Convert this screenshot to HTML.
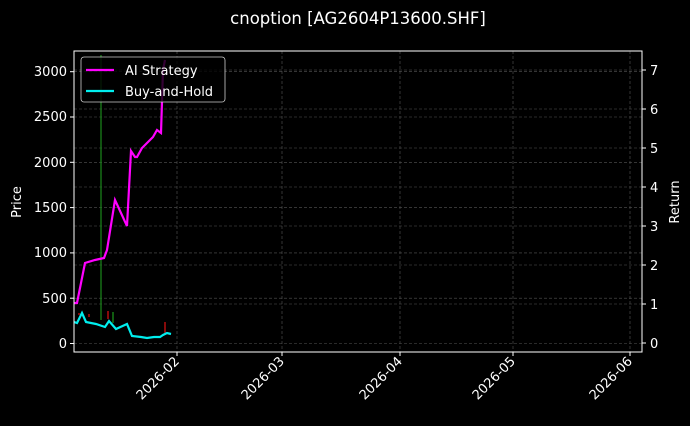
<!DOCTYPE html>
<html><head><style>
body{margin:0;background:#000;}
svg text{font-family:"DejaVu Sans","Liberation Sans",sans-serif;fill:#fff;}
</style></head><body>
<svg width="690" height="421" viewBox="0 0 690 421" xmlns="http://www.w3.org/2000/svg">
<rect width="690" height="421" fill="#000"/>
<text x="358" y="24" font-size="16.5" text-anchor="middle">cnoption [AG2604P13600.SHF]</text>
<g stroke="#555" stroke-width="0.6" stroke-dasharray="3,2">
<line x1="74" x2="642" y1="343.5" y2="343.5"/><line x1="74" x2="642" y1="298.2" y2="298.2"/><line x1="74" x2="642" y1="252.9" y2="252.9"/><line x1="74" x2="642" y1="207.6" y2="207.6"/><line x1="74" x2="642" y1="162.3" y2="162.3"/><line x1="74" x2="642" y1="117" y2="117"/><line x1="74" x2="642" y1="71.7" y2="71.7"/>
<line x1="74" x2="642" y1="304" y2="304"/><line x1="74" x2="642" y1="265" y2="265"/><line x1="74" x2="642" y1="226" y2="226"/><line x1="74" x2="642" y1="187" y2="187"/><line x1="74" x2="642" y1="148" y2="148"/><line x1="74" x2="642" y1="109" y2="109"/><line x1="74" x2="642" y1="70" y2="70"/>
<line y1="51" y2="352" x1="177" x2="177"/><line y1="51" y2="352" x1="282" x2="282"/><line y1="51" y2="352" x1="400" x2="400"/><line y1="51" y2="352" x1="513" x2="513"/><line y1="51" y2="352" x1="630" x2="630"/>
</g>
<line x1="101" x2="101" y1="55" y2="320" stroke="#1a8a1a" stroke-width="1.2"/>
<g stroke-width="1.2">
<line x1="108" x2="108" y1="311" y2="319" stroke="#e01010"/>
<line x1="113" x2="113" y1="312" y2="323" stroke="#1a9a1a"/>
<line x1="165" x2="165" y1="322" y2="333" stroke="#e01010"/>
<line x1="89" x2="89" y1="314" y2="317" stroke="#e01010"/>
<line x1="78" x2="80" y1="314" y2="314" stroke="#e01010"/>
</g>
<polyline fill="none" stroke="#ff00ff" stroke-width="2.2" points="74,303 77,303 85,263 95,260 104,258 107,250 115,200 127,226 131,151 135,157 137,157 142,148 153,137 157,130 161,133 163,70 165,60"/>
<polyline fill="none" stroke="#00eeee" stroke-width="2.2" points="74,322 77,323 82,313 86,322 96,324 105,327 109,321 116,329 127,324 132,336 141,337 147,338 154,337 160,337 163,335 167,333 171,334"/>
<rect x="74" y="51" width="568" height="301" fill="none" stroke="#fff" stroke-width="1"/>
<g stroke="#fff" stroke-width="1">
<line x1="70" x2="74" y1="343.5" y2="343.5"/><line x1="70" x2="74" y1="298.2" y2="298.2"/><line x1="70" x2="74" y1="252.9" y2="252.9"/><line x1="70" x2="74" y1="207.6" y2="207.6"/><line x1="70" x2="74" y1="162.3" y2="162.3"/><line x1="70" x2="74" y1="117" y2="117"/><line x1="70" x2="74" y1="71.7" y2="71.7"/>
<line x1="642" x2="646" y1="343" y2="343"/><line x1="642" x2="646" y1="304" y2="304"/><line x1="642" x2="646" y1="265" y2="265"/><line x1="642" x2="646" y1="226" y2="226"/><line x1="642" x2="646" y1="187" y2="187"/><line x1="642" x2="646" y1="148" y2="148"/><line x1="642" x2="646" y1="109" y2="109"/><line x1="642" x2="646" y1="70" y2="70"/>
<line y1="352" y2="356" x1="177" x2="177"/><line y1="352" y2="356" x1="282" x2="282"/><line y1="352" y2="356" x1="400" x2="400"/><line y1="352" y2="356" x1="513" x2="513"/><line y1="352" y2="356" x1="630" x2="630"/>
</g>
<g font-size="13" text-anchor="end">
<text x="67" y="348">0</text><text x="67" y="303">500</text><text x="67" y="257">1000</text><text x="67" y="212">1500</text><text x="67" y="167">2000</text><text x="67" y="121">2500</text><text x="67" y="76">3000</text>
</g>
<g font-size="13">
<text x="650" y="348">0</text><text x="650" y="309">1</text><text x="650" y="270">2</text><text x="650" y="231">3</text><text x="650" y="192">4</text><text x="650" y="153">5</text><text x="650" y="114">6</text><text x="650" y="75">7</text>
</g>
<text font-size="13" transform="translate(21,202) rotate(-90)" text-anchor="middle">Price</text>
<text font-size="13" transform="translate(679,202) rotate(-90)" text-anchor="middle">Return</text>
<g font-size="13" text-anchor="end">
<text transform="translate(180,362) rotate(-45)">2026-02</text>
<text transform="translate(285,362) rotate(-45)">2026-03</text>
<text transform="translate(403,362) rotate(-45)">2026-04</text>
<text transform="translate(516,362) rotate(-45)">2026-05</text>
<text transform="translate(633,362) rotate(-45)">2026-06</text>
</g>
<rect x="81" y="57" width="144" height="45" rx="3" fill="#000" fill-opacity="0.8" stroke="#ccc" stroke-width="0.8"/>
<line x1="86" x2="114" y1="70" y2="70" stroke="#ff00ff" stroke-width="2.2"/>
<line x1="86" x2="114" y1="91" y2="91" stroke="#00eeee" stroke-width="2.2"/>
<text x="125" y="75" font-size="13">AI Strategy</text>
<text x="125" y="96" font-size="13">Buy-and-Hold</text>
</svg>
</body></html>
